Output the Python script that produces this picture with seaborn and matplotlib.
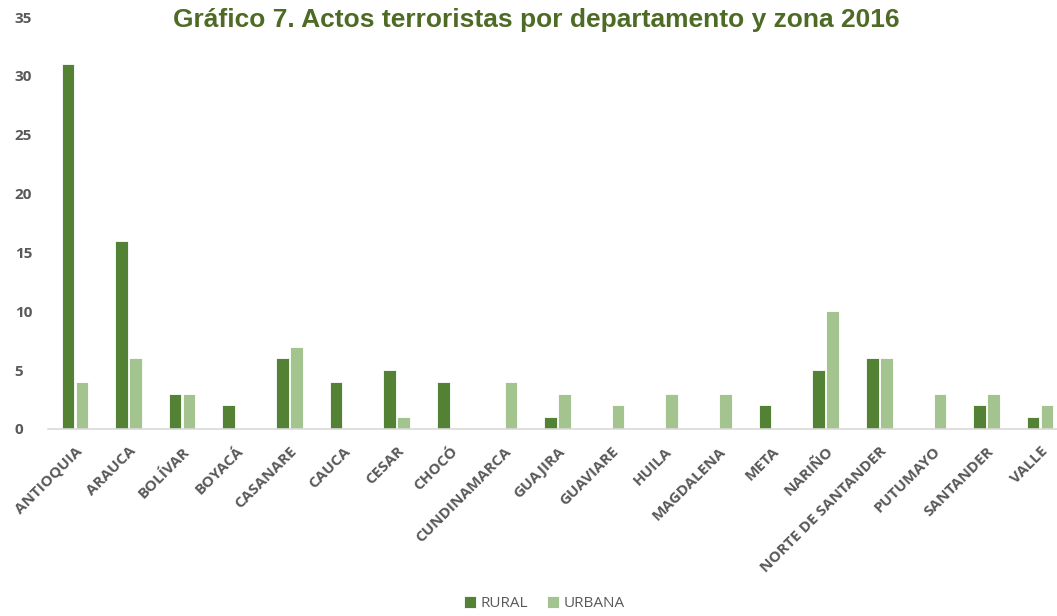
import matplotlib.pyplot as plt
import seaborn as sns
import pandas as pd

departamentos = ["ANTIOQUIA", "ARAUCA", "BOLÍVAR", "BOYACÁ", "CASANARE", "CAUCA",
                 "CESAR", "CHOCÓ", "CUNDINAMARCA", "GUAJIRA", "GUAVIARE", "HUILA",
                 "MAGDALENA", "META", "NARIÑO", "NORTE DE SANTANDER", "PUTUMAYO",
                 "SANTANDER", "VALLE"]
rural = [31, 16, 3, 2, 6, 4, 5, 4, 0, 1, 0, 0, 0, 2, 5, 6, 0, 2, 1]
urbana = [4, 6, 3, 0, 7, 0, 1, 0, 4, 3, 2, 3, 3, 0, 10, 6, 3, 3, 2]

df = pd.DataFrame({"departamento": departamentos * 2,
                   "zona": ["RURAL"] * len(rural) + ["URBANA"] * len(urbana),
                   "actos": rural + urbana})

sns.set_style("white")
plt.rcParams['font.family'] = ['Open Sans', 'DejaVu Sans']

fig = plt.figure(figsize=(10.57, 6.16), dpi=100)
ax = fig.add_axes([48 / 1057, 187 / 616, 1019 / 1057, 412 / 616])

sns.barplot(data=df, x="departamento", y="actos", hue="zona", ax=ax,
            palette=["#548235", "#A3C48E"], saturation=1, width=0.52, gap=0.1,
            edgecolor="white", linewidth=0.6)

ax.set_ylim(0, 35)
ax.set_xlim(-0.5, len(departamentos) - 0.5)
ax.set_yticks(range(0, 36, 5))
ax.set_xlabel("")
ax.set_ylabel("")
for s in ["top", "right", "left"]:
    ax.spines[s].set_visible(False)
ax.spines["bottom"].set_color("#d9d9d9")
ax.spines["bottom"].set_linewidth(1.2)
ax.tick_params(axis="both", length=0, colors="#595959")
ax.tick_params(axis="y", pad=24, labelsize=11)
ax.tick_params(axis="x", pad=11, labelsize=11)
for lab in ax.get_yticklabels():
    lab.set_fontweight("bold")
    lab.set_horizontalalignment("left")
for lab in ax.get_xticklabels():
    lab.set_rotation(45)
    lab.set_ha("right")
    lab.set_rotation_mode("anchor")
    lab.set_fontweight("bold")

handles, labels = ax.get_legend_handles_labels()
ax.get_legend().remove()
fig.legend(handles, labels, loc="lower center", bbox_to_anchor=(0.515, -0.015),
           ncol=2, frameon=False, fontsize=11, handlelength=0.8, handleheight=0.8,
           handletextpad=0.3, columnspacing=1.2, labelcolor="#595959")

fig.text(0.507, 0.968, "Gráfico 7. Actos terroristas por departamento y zona 2016",
         ha="center", va="center", fontsize=19, fontweight="bold",
         color="#4E6B26", family="Liberation Sans")

fig.savefig("out.png", dpi=100)
